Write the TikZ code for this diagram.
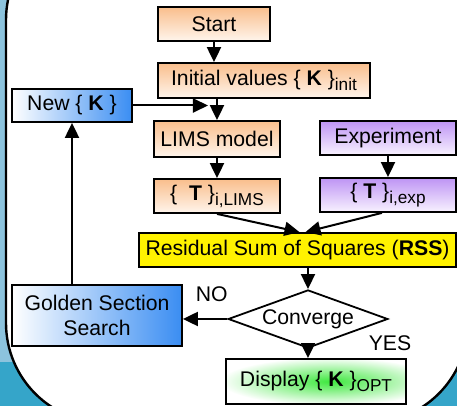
\documentclass[tikz,border=0pt]{standalone}
\usepackage{fontspec}
\setmainfont{Liberation Sans}
\usetikzlibrary{arrows.meta,shapes.geometric,calc}
\definecolor{slidelight}{HTML}{8CC3DD}
\definecolor{slidedark}{HTML}{35A5C9}
\definecolor{peach}{HTML}{F9BE8C}
\definecolor{peachlow}{HTML}{FFF5EC}
\definecolor{lilac}{HTML}{BE94F4}
\definecolor{lilaclow}{HTML}{F8F2FF}
\definecolor{skyblue}{HTML}{3A8DF2}
\definecolor{glowgreen}{HTML}{3FE83F}
\newcommand{\subtxt}[1]{\raisebox{-0.45ex}{\fontsize{8.6}{9}\selectfont #1}}
\newcommand{\bK}{\textbf{K}}

\begin{document}
\begin{tikzpicture}[x=0.5pt,y=-0.5pt,
		font=\fontsize{10.6}{12.4}\selectfont,
		box/.style={draw,line width=0.9pt,inner sep=1pt},
		orangebox/.style={box,top color=peach,bottom color=peachlow},
		purplebox/.style={box,top color=lilac,bottom color=lilaclow},
		bluebox/.style={box,left color=white,right color=skyblue},
		flow/.style={line width=1pt,-{Triangle[length=7.5pt,width=7pt]}}]
		% slide background and panel
		\useasboundingbox (0,0) rectangle (457,406);
		\clip (0,0) rectangle (457,406);
		\fill[slidelight] (0,0) rectangle (457,362);
		\fill[slidedark] (0,362) rectangle (457,406);
		\draw[fill=white,line width=1.2pt,rounded corners=50pt] (6,-80) rectangle (468,423);
		% boxes
		\node[orangebox,minimum width=56pt,minimum height=17pt] (start) at (214,24) {Start};
		\node[orangebox,minimum width=106pt,minimum height=17.5pt] (init) at (264,80.5) {Initial values \{ \bK\ \}\subtxt{init}};
		\node[bluebox,minimum width=60pt,minimum height=16.5pt] (new) at (72,105.5) {New \{ \bK\ \}};
		\node[orangebox,minimum width=63pt,minimum height=18pt] (lims) at (217,139) {LIMS model};
		\node[purplebox,minimum width=68pt,minimum height=17pt] (exp) at (388,138) {Experiment};
		\node[orangebox,minimum width=63pt,minimum height=17pt] (tlims) at (217,196) {\{ \ \textbf{T} \}\subtxt{i,LIMS}};
		\node[purplebox,minimum width=68pt,minimum height=17pt] (texp) at (388,195) {\{ \textbf{T} \}\subtxt{i,exp}};
		\node[box,fill=yellow,minimum width=158.5pt,minimum height=17pt] (rss) at (297.5,250) {Residual Sum of Squares (\textbf{RSS})};
		\node[draw,diamond,fill=white,line width=0.9pt,aspect=2.75,inner sep=1pt,minimum width=71.5pt,minimum height=26pt] (conv) at (308,319) {Converge};
		\node[bluebox,align=center,minimum width=85pt,minimum height=30.5pt] (gss) at (97,315.5) {Golden Section\\Search};
		\node[box,fill=white,minimum width=90pt,minimum height=22.5pt,
			path picture={\shade[inner color=glowgreen,outer color=white] ($(path picture bounding box.center)+(14,0)$) ellipse (110 and 24);}] (disp) at (316,381.5) {Display \{ \bK\ \}\subtxt{OPT}};
		% connectors
		\draw[flow] (start.south) -- (start.south |- init.north);
		\draw[flow] (lims.north |- init.south) -- (lims.north);
		\draw[flow,shorten >=4.5pt] (new.east) -- (new.east -| lims.north);
		\draw[flow] (lims) -- (tlims);
		\draw[flow] (exp) -- (texp);
		\draw[flow] (tlims.south) -- ([xshift=1pt]rss.north);
		\draw[flow] ([xshift=-3pt]texp.south) -- ([xshift=4pt]rss.north);
		\draw[flow] (conv.north |- rss.south) -- (conv.north);
		\draw[flow] (conv.west) -- (conv.west -| gss.east) node[pos=0.35,above=5pt] (no) {NO};
		\draw[flow] (conv.south) -- (conv.south |- disp.north);
		\node (yes) at (390,343) {YES};
		\draw[flow] (new.south |- gss.north) -- (new.south);
	\end{tikzpicture}
\end{document}
